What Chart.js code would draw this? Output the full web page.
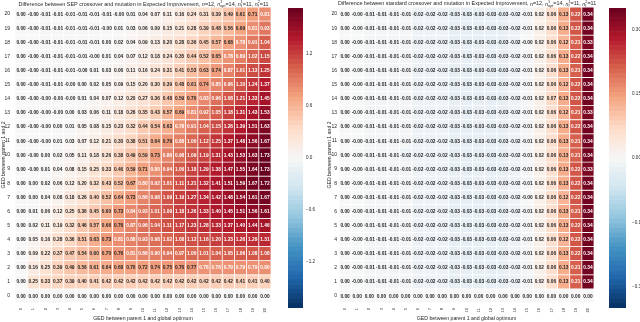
<!DOCTYPE html>
<html>
<head>
<meta charset="utf-8">
<script src="https://cdn.jsdelivr.net/npm/chart.js@4.4.1/dist/chart.umd.min.js"></script>
<style>
  body { margin: 0; background: #fff; width: 640px; height: 322px; overflow: hidden; position: relative; }
  .box { position: absolute; }
</style>
</head>
<body>
<div class="box" style="left:0;top:0"><canvas id="sepHeat" width="276" height="322"></canvas></div>
<div class="box" style="left:288px;top:8px"><canvas id="sepBar" width="30" height="300"></canvas></div>
<div class="box" style="left:326px;top:0"><canvas id="stdHeat" width="273" height="322"></canvas></div>
<div class="box" style="left:609px;top:8px"><canvas id="stdBar" width="31" height="300"></canvas></div>
<script>
// GED between parent 1 and global optimum (columns)
const gedOptimum = ['0','1','2','3','4','5','6','7','8','9','10','11','12','13','14','15','16','17','18','19','20'];
// GED between parent 1 and 2 (rows, top = 20 down to bottom = 0)
const gedParents = [20,19,18,17,16,15,14,13,12,11,10,9,8,7,6,5,4,3,2,1,0];

// -0.001 stands for the "-0.00" cells
const sepDiff = [
  [0.00,-0.001,-0.01,-0.01,-0.01,-0.01,-0.01,-0.01,-0.001,0.01,0.04,0.07,0.11,0.16,0.24,0.31,0.39,0.49,0.61,0.71,0.81],
  [0.00,-0.001,-0.01,-0.01,-0.01,-0.01,-0.01,-0.001,0.01,0.03,0.06,0.09,0.15,0.21,0.28,0.39,0.48,0.56,0.69,0.81,0.93],
  [0.00,-0.001,-0.01,-0.01,-0.01,-0.01,-0.01,0.00,0.02,0.04,0.09,0.13,0.20,0.28,0.36,0.45,0.57,0.68,0.78,0.91,1.04],
  [0.00,-0.001,-0.01,-0.01,-0.01,-0.01,-0.001,0.01,0.04,0.07,0.12,0.18,0.24,0.35,0.44,0.52,0.65,0.78,0.89,1.02,1.15],
  [0.00,-0.001,-0.01,-0.01,-0.01,-0.001,0.01,0.03,0.06,0.11,0.16,0.24,0.31,0.41,0.53,0.63,0.74,0.87,1.01,1.13,1.25],
  [0.00,-0.001,-0.01,-0.01,-0.001,0.00,0.02,0.05,0.09,0.15,0.20,0.30,0.39,0.48,0.61,0.74,0.85,0.96,1.10,1.24,1.37],
  [0.00,-0.001,-0.001,-0.001,-0.001,0.01,0.04,0.07,0.12,0.20,0.27,0.36,0.48,0.59,0.70,0.83,0.96,1.08,1.21,1.33,1.45],
  [0.00,-0.001,-0.001,-0.001,0.00,0.03,0.06,0.11,0.18,0.26,0.35,0.43,0.57,0.69,0.81,0.92,1.05,1.18,1.31,1.43,1.53],
  [0.00,-0.001,-0.001,0.00,0.01,0.05,0.08,0.15,0.23,0.32,0.44,0.54,0.63,0.78,0.91,1.04,1.15,1.26,1.39,1.51,1.63],
  [0.00,-0.001,-0.001,0.01,0.03,0.07,0.12,0.21,0.30,0.38,0.51,0.64,0.76,0.88,1.00,1.12,1.25,1.37,1.48,1.56,1.67],
  [0.00,-0.001,0.00,0.02,0.05,0.11,0.18,0.26,0.38,0.49,0.59,0.73,0.86,0.98,1.09,1.19,1.31,1.43,1.53,1.63,1.73],
  [0.00,-0.001,0.01,0.04,0.08,0.15,0.25,0.33,0.46,0.59,0.71,0.80,0.94,1.06,1.18,1.29,1.38,1.47,1.55,1.64,1.73],
  [0.00,0.00,0.02,0.06,0.12,0.20,0.32,0.43,0.52,0.67,0.80,0.92,1.01,1.11,1.21,1.32,1.41,1.51,1.59,1.67,1.72],
  [0.00,0.00,0.04,0.08,0.18,0.26,0.40,0.52,0.64,0.73,0.86,0.98,1.09,1.19,1.27,1.34,1.42,1.48,1.54,1.61,1.67],
  [0.00,0.01,0.06,0.12,0.25,0.36,0.45,0.60,0.73,0.84,0.93,1.01,1.09,1.18,1.26,1.33,1.40,1.45,1.51,1.56,1.61],
  [0.00,0.02,0.11,0.19,0.32,0.46,0.57,0.66,0.76,0.87,0.96,1.04,1.11,1.17,1.23,1.28,1.33,1.37,1.40,1.44,1.46],
  [0.00,0.05,0.16,0.28,0.36,0.51,0.63,0.73,0.81,0.88,0.93,0.98,1.02,1.08,1.12,1.16,1.20,1.23,1.26,1.29,1.31],
  [0.00,0.09,0.22,0.37,0.47,0.54,0.60,0.70,0.76,0.81,0.86,0.90,0.94,0.97,1.00,1.01,1.04,1.05,1.06,1.08,1.08],
  [0.00,0.16,0.25,0.39,0.49,0.56,0.61,0.64,0.68,0.70,0.72,0.74,0.75,0.76,0.77,0.78,0.78,0.79,0.79,0.79,0.80],
  [0.00,0.25,0.33,0.37,0.39,0.40,0.41,0.42,0.42,0.42,0.42,0.42,0.42,0.42,0.42,0.42,0.42,0.42,0.41,0.41,0.40],
  [0.00,0.00,0.00,0.00,0.00,0.00,0.00,0.00,0.00,0.00,0.00,0.00,0.00,0.00,0.00,0.00,0.00,0.00,0.00,0.00,0.00]
];

const stdDiff = [
  [0.00,-0.001,-0.01,-0.01,-0.01,-0.01,-0.02,-0.02,-0.02,-0.03,-0.03,-0.03,-0.03,-0.03,-0.02,-0.01,0.02,0.06,0.13,0.22,0.34],
  [0.00,-0.001,-0.01,-0.01,-0.01,-0.01,-0.02,-0.02,-0.02,-0.03,-0.03,-0.03,-0.03,-0.03,-0.02,-0.01,0.02,0.06,0.13,0.22,0.34],
  [0.00,-0.001,-0.01,-0.01,-0.01,-0.01,-0.02,-0.02,-0.02,-0.03,-0.03,-0.03,-0.03,-0.03,-0.02,-0.001,0.02,0.06,0.12,0.21,0.33],
  [0.00,-0.001,-0.01,-0.01,-0.01,-0.01,-0.02,-0.02,-0.02,-0.03,-0.03,-0.03,-0.03,-0.03,-0.02,-0.01,0.02,0.06,0.13,0.22,0.34],
  [0.00,-0.001,-0.01,-0.01,-0.01,-0.01,-0.02,-0.02,-0.02,-0.03,-0.03,-0.03,-0.03,-0.03,-0.02,-0.01,0.02,0.06,0.13,0.21,0.34],
  [0.00,-0.001,-0.01,-0.01,-0.01,-0.01,-0.02,-0.02,-0.02,-0.03,-0.03,-0.03,-0.03,-0.03,-0.02,-0.01,0.02,0.06,0.12,0.22,0.34],
  [0.00,-0.001,-0.01,-0.01,-0.01,-0.01,-0.02,-0.02,-0.02,-0.03,-0.03,-0.03,-0.03,-0.03,-0.02,-0.01,0.02,0.07,0.13,0.22,0.34],
  [0.00,-0.001,-0.01,-0.01,-0.01,-0.01,-0.02,-0.02,-0.02,-0.03,-0.03,-0.03,-0.03,-0.03,-0.02,-0.01,0.02,0.06,0.12,0.21,0.33],
  [0.00,-0.001,-0.01,-0.01,-0.01,-0.01,-0.02,-0.02,-0.02,-0.03,-0.03,-0.03,-0.03,-0.03,-0.02,-0.01,0.02,0.06,0.13,0.22,0.34],
  [0.00,-0.001,-0.01,-0.01,-0.01,-0.01,-0.02,-0.02,-0.02,-0.03,-0.03,-0.03,-0.03,-0.03,-0.02,-0.01,0.02,0.06,0.13,0.21,0.34],
  [0.00,-0.001,-0.01,-0.01,-0.01,-0.02,-0.02,-0.02,-0.02,-0.03,-0.03,-0.03,-0.03,-0.03,-0.02,-0.01,0.02,0.06,0.13,0.21,0.34],
  [0.00,-0.001,-0.01,-0.01,-0.01,-0.01,-0.02,-0.02,-0.02,-0.03,-0.03,-0.03,-0.03,-0.03,-0.02,-0.01,0.02,0.06,0.13,0.22,0.33],
  [0.00,-0.001,-0.01,-0.01,-0.01,-0.01,-0.02,-0.02,-0.02,-0.03,-0.03,-0.03,-0.03,-0.03,-0.02,-0.01,0.02,0.06,0.13,0.22,0.34],
  [0.00,-0.001,-0.01,-0.01,-0.01,-0.01,-0.02,-0.02,-0.02,-0.03,-0.03,-0.03,-0.03,-0.03,-0.02,-0.001,0.02,0.06,0.12,0.22,0.34],
  [0.00,-0.001,-0.01,-0.01,-0.01,-0.01,-0.02,-0.02,-0.02,-0.03,-0.03,-0.03,-0.03,-0.03,-0.02,-0.01,0.02,0.06,0.13,0.21,0.34],
  [0.00,-0.001,-0.01,-0.01,-0.01,-0.01,-0.02,-0.02,-0.02,-0.03,-0.03,-0.03,-0.03,-0.03,-0.02,-0.01,0.02,0.06,0.13,0.22,0.34],
  [0.00,-0.001,-0.01,-0.01,-0.01,-0.01,-0.02,-0.02,-0.02,-0.03,-0.03,-0.03,-0.03,-0.03,-0.02,-0.01,0.02,0.06,0.12,0.22,0.34],
  [0.00,-0.001,-0.01,-0.01,-0.01,-0.01,-0.02,-0.02,-0.02,-0.03,-0.03,-0.03,-0.03,-0.03,-0.02,-0.01,0.02,0.06,0.13,0.22,0.34],
  [0.00,-0.001,-0.01,-0.01,-0.01,-0.01,-0.02,-0.02,-0.02,-0.03,-0.03,-0.03,-0.03,-0.03,-0.02,-0.01,0.02,0.06,0.13,0.21,0.34],
  [0.00,-0.001,-0.01,-0.01,-0.01,-0.01,-0.02,-0.02,-0.02,-0.03,-0.03,-0.03,-0.03,-0.03,-0.02,-0.01,0.02,0.06,0.13,0.21,0.34],
  [0.00,0.00,0.00,0.00,0.00,0.00,0.00,0.00,0.00,0.00,0.00,0.00,0.00,0.00,0.00,0.00,0.00,0.00,0.00,0.00,0.00]
];

const sepLimit = 1.73;
const stdLimit = 0.35;
const sepTicks = [1.2, 0.6, 0, -0.6, -1.2];
const stdTicks = [0.30, 0.15, 0, -0.15, -0.30];

const sepTitle = [
  {t: 'Difference between SEP crossover and mutation in Expected Improvement, '},
  {t: 'n', it: true}, {t: '=12, '},
  {t: 'n', it: true, sup: '1', sub: 'opt'}, {t: '=14, '},
  {t: 'n', it: true, sup: '1', sub: 'f'}, {t: '=11, '},
  {t: 'n', it: true, sup: '2', sub: 'f'}, {t: '=11'}
];
const stdTitle = [
  {t: 'Difference between standard crossover and mutation in Expected Improvement, '},
  {t: 'n', it: true}, {t: '=12, '},
  {t: 'n', it: true, sup: '1', sub: 'opt'}, {t: '=14, '},
  {t: 'n', it: true, sup: '1', sub: 'f'}, {t: '=11, '},
  {t: 'n', it: true, sup: '2', sub: 'f'}, {t: '=11'}
];

const FAMILY = "'Liberation Sans', Arial, sans-serif";
const INK = '#262626';
Chart.defaults.font.family = FAMILY;
Chart.defaults.color = INK;

// RdBu_r
const rdbu = ['#053061','#2166ac','#4393c3','#92c5de','#d1e5f0','#f7f7f7','#fddbc7','#f4a582','#d6604d','#b2182b','#67001f']
  .map(h => [1, 3, 5].map(i => parseInt(h.slice(i, i + 2), 16)));

function cmap(t) {
  t = Math.min(1, Math.max(0, t));
  const p = t * (rdbu.length - 1);
  const i = Math.min(rdbu.length - 2, Math.floor(p));
  const f = p - i;
  const c = rdbu[i].map((v, k) => Math.round(v + (rdbu[i + 1][k] - v) * f));
  return 'rgb(' + c.join(',') + ')';
}

function luminance(rgb) {
  const c = rgb.match(/\d+/g).map(v => {
    v = v / 255;
    return v <= 0.03928 ? v / 12.92 : Math.pow((v + 0.055) / 1.055, 2.4);
  });
  return 0.2126 * c[0] + 0.7152 * c[1] + 0.0722 * c[2];
}

// scales reserve half a label above/below; the layout padding handles that here
function noEdgePadding(s) {
  s.paddingTop = 0; s.paddingBottom = 0; s.paddingLeft = 0; s.paddingRight = 0;
}

const annotate = {
  id: 'annotate',
  afterDatasetsDraw(chart) {
    const ctx = chart.ctx;
    ctx.save();
    ctx.font = 'bold 4.8px ' + FAMILY;
    ctx.textAlign = 'center';
    ctx.textBaseline = 'middle';
    chart.data.datasets.forEach((ds, i) => {
      chart.getDatasetMeta(i).data.forEach((bar, j) => {
        ctx.fillStyle = luminance(ds.backgroundColor[j]) > 0.408 ? INK : '#fff';
        ctx.fillText(ds.values[j].toFixed(2), bar.x, (bar.y + bar.base) / 2 + 0.3);
      });
    });
    ctx.restore();
  }
};

function titlePlugin(parts, width) {
  return {
    id: 'richTitle',
    afterDraw(chart) {
      const ctx = chart.ctx;
      const a = chart.chartArea;
      const font = (s, it) => (it ? 'italic ' : '') + s + 'px ' + FAMILY;
      const measure = s => parts.reduce((sum, p) => {
        ctx.font = font(s, p.it);
        let w = ctx.measureText(p.t).width;
        if (p.sup) {
          ctx.font = font(s * 0.7);
          w += Math.max(ctx.measureText(p.sup).width, ctx.measureText(p.sub).width);
        }
        return sum + w;
      }, 0);
      ctx.save();
      const size = 10 * width / measure(10);
      let x = (a.left + a.right) / 2 - width / 2 + 1;
      const y = 4;
      ctx.fillStyle = INK;
      ctx.textAlign = 'left';
      ctx.textBaseline = 'middle';
      parts.forEach(p => {
        ctx.font = font(size, p.it);
        ctx.fillText(p.t, x, y);
        x += ctx.measureText(p.t).width;
        if (p.sup) {
          ctx.font = font(size * 0.7);
          ctx.fillText(p.sup, x, y - size * 0.35);
          ctx.fillText(p.sub, x, y + size * 0.35);
          x += Math.max(ctx.measureText(p.sup).width, ctx.measureText(p.sub).width);
        }
      });
      ctx.restore();
    }
  };
}

function heatmap(id, rows, limit, title, titleWidth, yWidth, yPad) {
  const datasets = rows.map((vals, i) => ({
    data: vals.map(() => [gedParents[i] - 0.5, gedParents[i] + 0.5]),
    values: vals,
    backgroundColor: vals.map(v => cmap((v + limit) / (2 * limit))),
    borderColor: '#fff',
    borderWidth: 0.4,
    borderSkipped: false,
    inflateAmount: 0,
    grouped: false,
    barPercentage: 1,
    categoryPercentage: 1
  }));
  new Chart(document.getElementById(id), {
    type: 'bar',
    data: { labels: gedOptimum, datasets },
    options: {
      responsive: false,
      animation: false,
      layout: { padding: { top: 7, right: 5, left: 0, bottom: 0 } },
      plugins: { legend: { display: false }, tooltip: { enabled: false } },
      scales: {
        x: {
          grid: { display: false, drawTicks: false },
          border: { display: false },
          ticks: { minRotation: 90, maxRotation: 90, autoSkip: false, padding: 5, font: { size: 4 } },
          title: { display: true, text: 'GED between parent 1 and global optimum', font: { size: 5.2 }, padding: 0 },
          afterFit: s => { noEdgePadding(s); s.height = 19; }
        },
        y: {
          min: -0.5, max: 20.5,
          afterBuildTicks: s => { s.ticks = gedParents.map(v => ({ value: v })); },
          grid: { display: false, drawTicks: false },
          border: { display: false },
          ticks: { autoSkip: false, padding: yPad, font: { size: 5 } },
          title: { display: true, text: 'GED between parent 1 and 2', font: { size: 5.2 }, padding: 0 },
          afterFit: s => { noEdgePadding(s); s.width = yWidth; }
        }
      }
    },
    plugins: [annotate, titlePlugin(title, titleWidth)]
  });
}

function colorbar(id, limit, ticks, digits, barWidth, pad) {
  const steps = 64;
  const datasets = [];
  for (let k = 0; k < steps; k++) {
    datasets.push({
      data: [[-limit + 2 * limit * k / steps, -limit + 2 * limit * (k + 1) / steps]],
      backgroundColor: cmap((k + 0.5) / steps),
      borderWidth: 0, inflateAmount: 0.3, grouped: false,
      barPercentage: 1, categoryPercentage: 1
    });
  }
  const canvas = document.getElementById(id);
  new Chart(canvas, {
    type: 'bar',
    data: { labels: ['bar'], datasets },
    options: {
      responsive: false,
      animation: false,
      layout: { padding: 0 },
      plugins: { legend: { display: false }, tooltip: { enabled: false } },
      scales: {
        x: { display: false },
        y: {
          position: 'right',
          min: -limit, max: limit,
          afterBuildTicks: s => { s.ticks = ticks.map(v => ({ value: v })); },
          grid: { display: false, drawTicks: false },
          border: { display: false },
          ticks: {
            autoSkip: false, padding: pad, font: { size: 4.6 },
            callback: v => v.toFixed(digits).replace('-', '\u2212')
          },
          afterFit: s => { noEdgePadding(s); s.width = canvas.width - barWidth; }
        }
      }
    }
  });
}

heatmap('sepHeat', sepDiff, sepLimit, sepTitle, 251, 15, 5);
colorbar('sepBar', sepLimit, sepTicks, 1, 15, 3);
heatmap('stdHeat', stdDiff, stdLimit, stdTitle, 259, 13, 2);
colorbar('stdBar', stdLimit, stdTicks, 2, 17, 6);
</script>
</body>
</html>
